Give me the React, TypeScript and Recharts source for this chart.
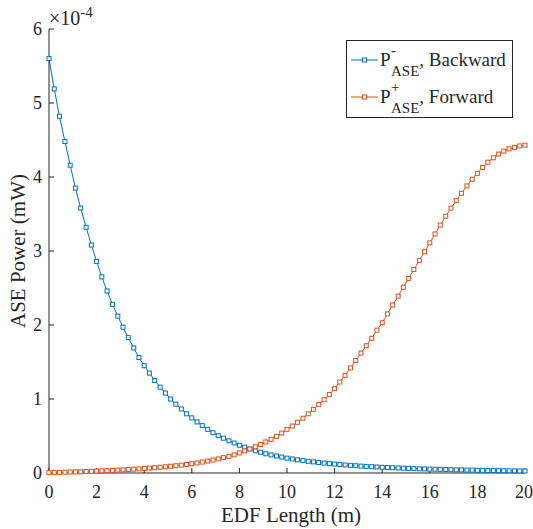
import { LineChart, Line, XAxis, YAxis } from 'recharts'

const AXIS = '#262626'
const FONT = 'Liberation Serif'
const BLUE = '#0072BD'
const ORANGE = '#D95319'

// fibre position (m), 91 samples
const lengthM = [
  0, 0.22, 0.44, 0.67, 0.89, 1.11, 1.33, 1.56, 1.78,
  2, 2.22, 2.44, 2.67, 2.89, 3.11, 3.33, 3.56, 3.78,
  4, 4.22, 4.44, 4.67, 4.89, 5.11, 5.33, 5.56, 5.78,
  6, 6.22, 6.44, 6.67, 6.89, 7.11, 7.33, 7.56, 7.78,
  8, 8.22, 8.44, 8.67, 8.89, 9.11, 9.33, 9.56, 9.78,
  10, 10.22, 10.44, 10.67, 10.89, 11.11, 11.33, 11.56, 11.78,
  12, 12.22, 12.44, 12.67, 12.89, 13.11, 13.33, 13.56, 13.78,
  14, 14.22, 14.44, 14.67, 14.89, 15.11, 15.33, 15.56, 15.78,
  16, 16.22, 16.44, 16.67, 16.89, 17.11, 17.33, 17.56, 17.78,
  18, 18.22, 18.44, 18.67, 18.89, 19.11, 19.33, 19.56, 19.78,
  20,
]

// ASE power, units of 1e-4 mW
const backward = [
  5.60, 5.19, 4.82, 4.48, 4.16, 3.85, 3.58, 3.32, 3.08,
  2.86, 2.65, 2.46, 2.28, 2.12, 1.97, 1.83, 1.69, 1.56,
  1.45, 1.35, 1.25, 1.16, 1.08, 1.00, 0.93, 0.865, 0.80,
  0.745, 0.69, 0.64, 0.59, 0.545, 0.505, 0.47, 0.435, 0.405,
  0.375, 0.35, 0.325, 0.30, 0.28, 0.26, 0.245, 0.23, 0.215,
  0.20, 0.19, 0.178, 0.168, 0.158, 0.15, 0.142, 0.134, 0.127,
  0.12, 0.114, 0.108, 0.103, 0.098, 0.093, 0.089, 0.085, 0.081,
  0.077, 0.074, 0.071, 0.068, 0.065, 0.062, 0.06, 0.057, 0.055,
  0.053, 0.051, 0.049, 0.047, 0.045, 0.043, 0.042, 0.04, 0.039,
  0.037, 0.036, 0.034, 0.033, 0.032, 0.031, 0.03, 0.029, 0.028,
  0.027,
]

const forward = [
  0.005, 0.007, 0.009, 0.011, 0.013, 0.015, 0.017, 0.02, 0.023,
  0.026, 0.029, 0.032, 0.035, 0.039, 0.043, 0.047, 0.051, 0.056,
  0.061, 0.066, 0.072, 0.078, 0.084, 0.091, 0.098, 0.106, 0.115,
  0.125, 0.136, 0.148, 0.161, 0.175, 0.19, 0.207, 0.225, 0.245,
  0.272, 0.298, 0.325, 0.355, 0.385, 0.42, 0.455, 0.495, 0.54,
  0.59, 0.635, 0.685, 0.74, 0.80, 0.86, 0.925, 0.99, 1.06,
  1.14, 1.23, 1.32, 1.42, 1.52, 1.62, 1.72, 1.82, 1.93,
  2.03, 2.15, 2.27, 2.39, 2.51, 2.63, 2.75, 2.87, 2.99,
  3.11, 3.23, 3.35, 3.47, 3.58, 3.68, 3.78, 3.88, 3.97,
  4.05, 4.13, 4.20, 4.26, 4.31, 4.35, 4.38, 4.40, 4.42,
  4.43,
]

const xTicks = [0, 2, 4, 6, 8, 10, 12, 14, 16, 18, 20]
const yTicks = [0, 1, 2, 3, 4, 5, 6]

const data = lengthM.map((x, i) => ({ x, backward: backward[i], forward: forward[i] }))

const tickStyle = { fill: AXIS, fontSize: 18, fontFamily: FONT, style: { fontFamily: FONT } }

function SquareDot(props: any) {
  const { cx, cy, stroke } = props
  if (cx == null || cy == null) return null
  return <rect x={cx - 2} y={cy - 2} width={4} height={4} fill="#fff" stroke={stroke} strokeWidth={1} />
}

function XTitle(props: any) {
  const vb = props.viewBox || {}
  return (
    <text x={vb.x + vb.width / 2 + 4} y={vb.y + 49} textAnchor="middle"
      fill={AXIS} fontSize={21} style={{ fontFamily: FONT }}>
      EDF Length (m)
    </text>
  )
}

function YTitle(props: any) {
  const vb = props.viewBox || {}
  const cy = vb.y + vb.height / 2
  return (
    <text x={25} y={cy} textAnchor="middle" transform={`rotate(-90, 25, ${cy})`}
      fill={AXIS} fontSize={21} style={{ fontFamily: FONT }}>
      ASE Power (mW)
    </text>
  )
}

function LegendEntry({ y, color, sup, label }: { y: number; color: string; sup: string; label: string }) {
  return (
    <g>
      <line x1={4} x2={31} y1={y - 6} y2={y - 6} stroke={color} strokeWidth={1} />
      <rect x={15.5} y={y - 8} width={4} height={4} fill="#fff" stroke={color} strokeWidth={1} />
      <text y={y} fill={AXIS} fontSize={19} style={{ fontFamily: FONT }}>
        <tspan x={33}>P</tspan>
        <tspan x={44} y={y - 11} fontSize={15}>{sup}</tspan>
        <tspan x={44} y={y + 10} fontSize={15}>ASE</tspan>
        <tspan y={y}>, {label}</tspan>
      </text>
    </g>
  )
}

export default function App() {
  return (
    <div style={{ position: 'absolute', left: 0, top: 0, width: 533, height: 529, background: '#fff', fontFamily: FONT }}>
      <LineChart width={533} height={529} data={data} margin={{ top: 29, right: 8, bottom: 0, left: 0 }}>
        <XAxis xAxisId="top" orientation="top" type="number" domain={[0, 20]} ticks={xTicks}
          height={0} tick={false} tickSize={-5} stroke={AXIS} />
        <YAxis yAxisId="right" orientation="right" type="number" domain={[0, 6]} ticks={yTicks}
          width={0} tick={false} tickSize={-5} stroke={AXIS} />
        <XAxis dataKey="x" type="number" domain={[0, 20]} ticks={xTicks} height={56}
          tickSize={-5} tickMargin={17} stroke={AXIS} tick={tickStyle} label={<XTitle />} />
        <YAxis type="number" domain={[0, 6]} ticks={yTicks} width={49}
          tickSize={-5} tickMargin={12} stroke={AXIS} tick={tickStyle} label={<YTitle />} />
        <Line type="linear" dataKey="backward" stroke={BLUE} strokeWidth={1}
          dot={<SquareDot />} activeDot={false} isAnimationActive={false} />
        <Line type="linear" dataKey="forward" stroke={ORANGE} strokeWidth={1}
          dot={<SquareDot />} activeDot={false} isAnimationActive={false} />
      </LineChart>

      <div style={{ position: 'absolute', left: 49, top: 7, fontSize: 20, lineHeight: '22px', color: AXIS, whiteSpace: 'nowrap' }}>
        ×10<span style={{ fontSize: 15, position: 'relative', top: -8 }}>-4</span>
      </div>

      <div style={{ position: 'absolute', left: 346, top: 40, width: 165, height: 76, border: `1px solid ${AXIS}`, background: '#fff' }}>
        <svg width={165} height={76} style={{ display: 'block' }}>
          <LegendEntry y={25} color={BLUE} sup="-" label="Backward" />
          <LegendEntry y={62} color={ORANGE} sup="+" label="Forward" />
        </svg>
      </div>
    </div>
  )
}
